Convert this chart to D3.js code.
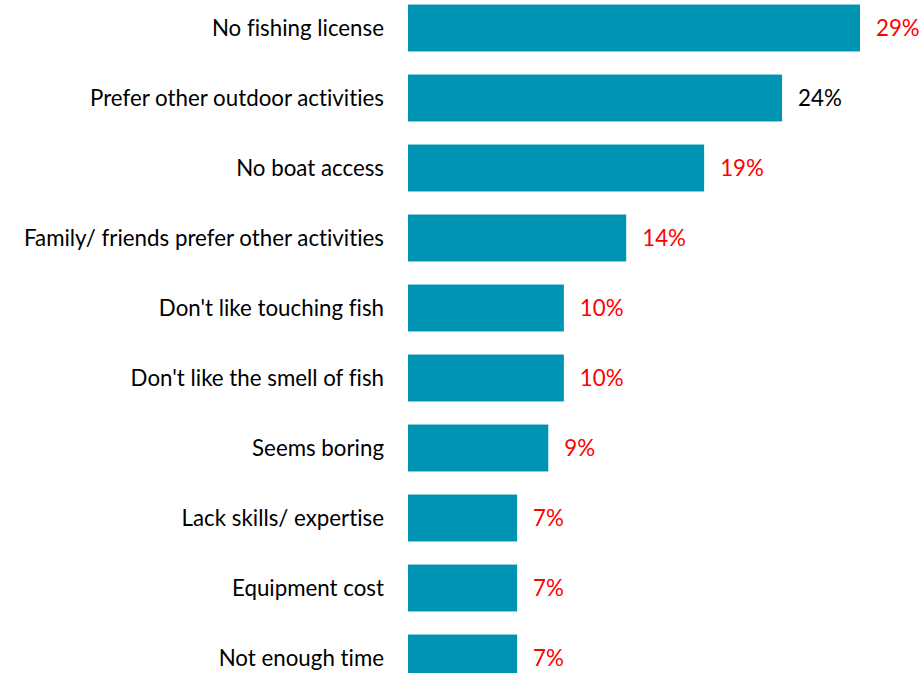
<!DOCTYPE html>
<html>
<head>
<meta charset="utf-8">
<script src="https://cdn.jsdelivr.net/npm/d3@7"></script>
<style>
  html, body { margin: 0; padding: 0; background: #fff; }
  svg { display: block; }
  text { font-family: Lato, "Open Sans", sans-serif; font-variant-ligatures: none; }
</style>
</head>
<body>
<svg id="chart" width="922" height="673"></svg>
<script>
// Reasons for not fishing, share of respondents (%)
const categories = [
  "No fishing license",
  "Prefer other outdoor activities",
  "No boat access",
  "Family/ friends prefer other activities",
  "Don't like touching fish",
  "Don't like the smell of fish",
  "Seems boring",
  "Lack skills/ expertise",
  "Equipment cost",
  "Not enough time"
];
const values = [29, 24, 19, 14, 10, 10, 9, 7, 7, 7];
// Value labels are highlighted in red except the one shown in black
const labelColors = ["#ff0000", "#000000", "#ff0000", "#ff0000", "#ff0000",
                     "#ff0000", "#ff0000", "#ff0000", "#ff0000", "#ff0000"];

const rows = categories.map((c, i) => ({ cat: c, value: values[i], color: labelColors[i] }));

const svg = d3.select("#chart");
const barColor = "#0094b4";
const fontSize = 22.3;

const x = d3.scaleLinear().domain([0, 29]).range([408, 860]);
const y = d3.scaleBand()
  .domain(categories)
  .range([-7, 693])
  .paddingInner(0.33)
  .paddingOuter(0.165);

// Bars
svg.append("g")
  .selectAll("rect")
  .data(rows)
  .join("rect")
  .attr("x", x(0))
  .attr("y", d => y(d.cat))
  .attr("width", d => x(d.value) - x(0))
  .attr("height", y.bandwidth())
  .attr("fill", barColor);

// Category labels, right aligned left of the bars
svg.append("g")
  .selectAll("text")
  .data(rows)
  .join("text")
  .attr("x", x(0) - 24)
  .attr("y", d => y(d.cat) + y.bandwidth() / 2)
  .attr("dy", "0.35em")
  .attr("text-anchor", "end")
  .attr("font-size", fontSize)
  .attr("fill", "#000")
  .text(d => d.cat);

// Value labels at the end of each bar
svg.append("g")
  .selectAll("text")
  .data(rows)
  .join("text")
  .attr("x", d => x(d.value) + 16)
  .attr("y", d => y(d.cat) + y.bandwidth() / 2)
  .attr("dy", "0.35em")
  .attr("text-anchor", "start")
  .attr("font-size", fontSize)
  .attr("fill", d => d.color)
  .text(d => d.value + "%");
</script>
</body>
</html>
